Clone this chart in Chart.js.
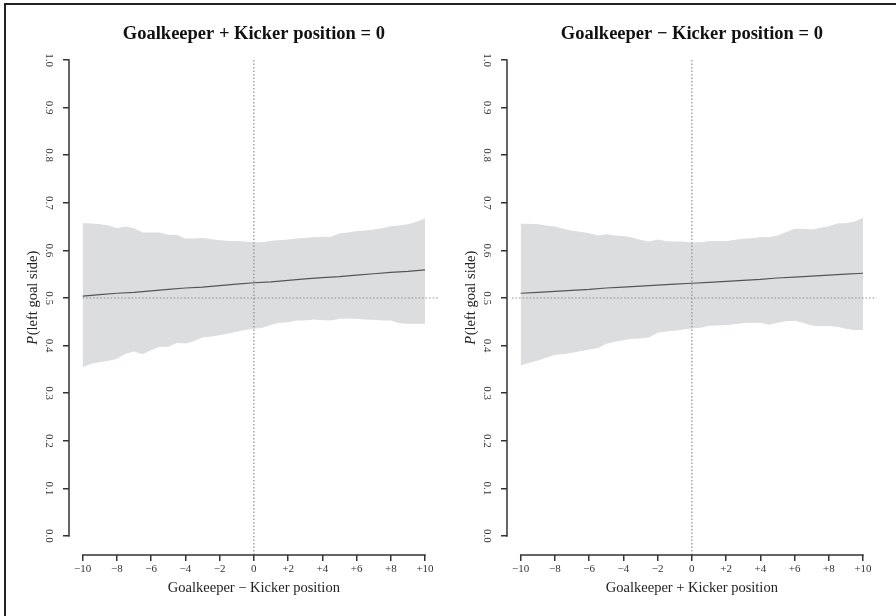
<!DOCTYPE html>
<html>
<head>
<meta charset="utf-8">
<script src="https://cdn.jsdelivr.net/npm/chart.js@4"></script>
<style>
  html, body { margin: 0; padding: 0; background: #fff; }
  #wrap { position: relative; width: 896px; height: 616px; overflow: hidden; }
  #frame { position: absolute; left: 4px; top: 3px; right: -10px; bottom: -10px;
           border-left: 2px solid #222; border-top: 2px solid #222; }
  canvas { position: absolute; top: 0; }
  #left { left: 0; }
  #right { left: 438px; }
</style>
</head>
<body>
<div id="wrap">
  <div id="frame"></div>
  <canvas id="left" width="448" height="616"></canvas>
  <canvas id="right" width="448" height="616"></canvas>
</div>
<script>
// x grid of the confidence band (step 0.5)
const bandX = [-10, -9.5, -9, -8.5, -8, -7.5, -7, -6.5, -6, -5.5, -5, -4.5, -4, -3.5, -3, -2.5, -2, -1.5, -1, -0.5,
  0, 0.5, 1, 1.5, 2, 2.5, 3, 3.5, 4, 4.5, 5, 5.5, 6, 6.5, 7, 7.5, 8, 8.5, 9, 9.5, 10];
const lineX = [-10, -9, -8, -7, -6, -5, -4, -3, -2, -1, 0, 1, 2, 3, 4, 5, 6, 7, 8, 9, 10];

const xTicks = [-10, -8, -6, -4, -2, 0, 2, 4, 6, 8, 10];
const yTicks = [0, 0.1, 0.2, 0.3, 0.4, 0.5, 0.6, 0.7, 0.8, 0.9, 1.0];

// left panel: Goalkeeper + Kicker position = 0
const leftUpper = [0.6562, 0.6555, 0.6541, 0.6513, 0.6457, 0.6492, 0.6457, 0.6366, 0.6366, 0.6366,
  0.6317, 0.6317, 0.6239, 0.6239, 0.6253, 0.6225, 0.6205, 0.6190, 0.6184, 0.6176, 0.6155,
  0.6162, 0.6190, 0.6205, 0.6218, 0.6239, 0.6253, 0.6268, 0.6275, 0.6275, 0.6345,
  0.6366, 0.6394, 0.6408, 0.6429, 0.6457, 0.6499, 0.6513, 0.6541, 0.6590, 0.6660];
const leftLower = [0.3557, 0.3627, 0.3662, 0.3691, 0.3733, 0.3838, 0.3887, 0.3831, 0.3915, 0.3985,
  0.3985, 0.4069, 0.4055, 0.4104, 0.4181, 0.4202, 0.4230, 0.4265, 0.4300, 0.4342, 0.4363,
  0.4384, 0.4447, 0.4489, 0.4503, 0.4538, 0.4538, 0.4559, 0.4545, 0.4538, 0.4573,
  0.4580, 0.4573, 0.4559, 0.4552, 0.4538, 0.4538, 0.4482, 0.4468, 0.4468, 0.4468];
const leftLine = [0.504, 0.507, 0.510, 0.512, 0.515, 0.518, 0.521, 0.523, 0.526, 0.529, 0.532,
  0.534, 0.537, 0.540, 0.543, 0.545, 0.548, 0.551, 0.554, 0.556, 0.559];

// right panel: Goalkeeper - Kicker position = 0
const rightUpper = [0.6548, 0.6548, 0.6541, 0.6513, 0.6492, 0.6443, 0.6401, 0.6380, 0.6352, 0.6303,
  0.6331, 0.6303, 0.6289, 0.6261, 0.6211, 0.6176, 0.6218, 0.6184, 0.6176, 0.6176, 0.6155,
  0.6162, 0.6184, 0.6184, 0.6184, 0.6211, 0.6233, 0.6246, 0.6268, 0.6268, 0.6303,
  0.6373, 0.6443, 0.6443, 0.6429, 0.6464, 0.6499, 0.6555, 0.6562, 0.6597, 0.6674];
const rightLower = [0.3592, 0.3648, 0.3697, 0.3754, 0.3817, 0.3831, 0.3859, 0.3894, 0.3929, 0.3957,
  0.4048, 0.4090, 0.4125, 0.4153, 0.4160, 0.4181, 0.4279, 0.4307, 0.4321, 0.4349, 0.4370,
  0.4384, 0.4426, 0.4433, 0.4440, 0.4461, 0.4482, 0.4489, 0.4489, 0.4447, 0.4489,
  0.4524, 0.4531, 0.4489, 0.4433, 0.4419, 0.4419, 0.4405, 0.4363, 0.4335, 0.4342];
const rightLine = [0.510, 0.512, 0.514, 0.516, 0.518, 0.521, 0.523, 0.525, 0.527, 0.529, 0.531,
  0.533, 0.535, 0.537, 0.539, 0.542, 0.544, 0.546, 0.548, 0.550, 0.552];

// dotted reference lines
const refY = 0.5;
const leftRefX = [-10, 10.8];
const rightRefX = [-10.5, 10.8];
const vRefY = [-0.04, 1.0];

const yTitleParts = ["P", "(left goal side)"];
const FONT = "Liberation Serif";

const axisFrame = {
  id: "axisFrame",
  afterDraw(chart) {
    const { ctx, chartArea, scales: { x, y } } = chart;
    ctx.save();
    ctx.strokeStyle = "#333";
    ctx.lineWidth = 1.5;
    ctx.beginPath();
    ctx.moveTo(x.getPixelForValue(xTicks[0]) - 0.75, chartArea.bottom);
    ctx.lineTo(x.getPixelForValue(xTicks[xTicks.length - 1]) + 0.75, chartArea.bottom);
    ctx.moveTo(chartArea.left, y.getPixelForValue(yTicks[0]) + 0.75);
    ctx.lineTo(chartArea.left, y.getPixelForValue(yTicks[yTicks.length - 1]) - 0.75);
    ctx.stroke();

    // y axis title, italic P
    ctx.translate(33, (chartArea.top + chartArea.bottom) / 2);
    ctx.rotate(-Math.PI / 2);
    ctx.fillStyle = "#222";
    ctx.textBaseline = "middle";
    ctx.textAlign = "left";
    const fItal = "italic 14.5px '" + FONT + "'";
    const fReg = "14.5px '" + FONT + "'";
    ctx.font = fItal;
    const w1 = ctx.measureText(yTitleParts[0]).width;
    ctx.font = fReg;
    const w2 = ctx.measureText(yTitleParts[1]).width;
    const sx = -(w1 + w2) / 2;
    ctx.font = fItal;
    ctx.fillText(yTitleParts[0], sx, 0);
    ctx.font = fReg;
    ctx.fillText(yTitleParts[1], sx + w1 + 0.5, 0);
    ctx.restore();
  }
};

function makeChart(id, title, xTitle, upper, lower, line, refX) {
  const dotted = { borderColor: "#8c8c8c", borderWidth: 1.2, borderDash: [1.5, 2], pointRadius: 0, fill: false, order: 1 };
  return new Chart(document.getElementById(id), {
    type: "line",
    data: {
      datasets: [
        { label: "fit", data: lineX.map((x, i) => ({ x, y: line[i] })),
          borderColor: "#555", borderWidth: 1.2, pointRadius: 0, fill: false, order: 0 },
        Object.assign({ label: "h", data: refX.map(x => ({ x, y: refY })) }, dotted),
        Object.assign({ label: "v", data: vRefY.map(y => ({ x: 0, y })) }, dotted),
        { label: "upper", data: bandX.map((x, i) => ({ x, y: upper[i] })),
          borderColor: "#dcdddf", borderWidth: 1, backgroundColor: "#dcdddf",
          pointRadius: 0, fill: "+1", order: 2 },
        { label: "lower", data: bandX.map((x, i) => ({ x, y: lower[i] })),
          borderColor: "#dcdddf", borderWidth: 1, pointRadius: 0, fill: false, order: 3 }
      ]
    },
    options: {
      responsive: false,
      animation: false,
      devicePixelRatio: 1,
      layout: { padding: { left: 0, right: 9.3, top: 0, bottom: 0 } },
      plugins: {
        legend: { display: false },
        tooltip: { enabled: false },
        title: {
          display: true, text: title, fullSize: false, color: "#111",
          font: { family: FONT, size: 18.5, weight: "bold", lineHeight: 1 },
          padding: { top: 25, bottom: -2.5 }
        }
      },
      scales: {
        x: {
          type: "linear", min: -10.8, max: 10.8,
          afterBuildTicks: s => { s.ticks = xTicks.map(v => ({ value: v })); },
          afterFit: s => { s.height = 61; },
          grid: { drawOnChartArea: false, drawTicks: true, tickLength: 6, color: "#333", lineWidth: 1.5 },
          border: { display: false },
          ticks: {
            font: { family: FONT, size: 11 }, color: "#333", padding: 2,
            maxRotation: 0, autoSkip: false,
            callback: v => v > 0 ? "+" + v : v < 0 ? "\u2212" + (-v) : "0"
          },
          title: {
            display: true, text: xTitle, color: "#222",
            font: { family: FONT, size: 14.5 }, padding: { top: 0, bottom: 19 }
          }
        },
        y: {
          type: "linear", min: -0.04, max: 1.04,
          afterBuildTicks: s => { s.ticks = yTicks.map(v => ({ value: v })); },
          afterFit: s => { s.width = 69; },
          grid: { drawOnChartArea: false, drawTicks: true, tickLength: 6, color: "#333", lineWidth: 1.5 },
          border: { display: false },
          ticks: {
            font: { family: FONT, size: 11 }, color: "#333", padding: 7,
            minRotation: -90, maxRotation: -90, crossAlign: "center", autoSkip: false,
            callback: v => v.toFixed(1)
          }
        }
      }
    },
    plugins: [axisFrame]
  });
}

makeChart("left", "Goalkeeper + Kicker position = 0", "Goalkeeper \u2212 Kicker position",
  leftUpper, leftLower, leftLine, leftRefX);
makeChart("right", "Goalkeeper \u2212 Kicker position = 0", "Goalkeeper + Kicker position",
  rightUpper, rightLower, rightLine, rightRefX);
</script>
</body>
</html>
